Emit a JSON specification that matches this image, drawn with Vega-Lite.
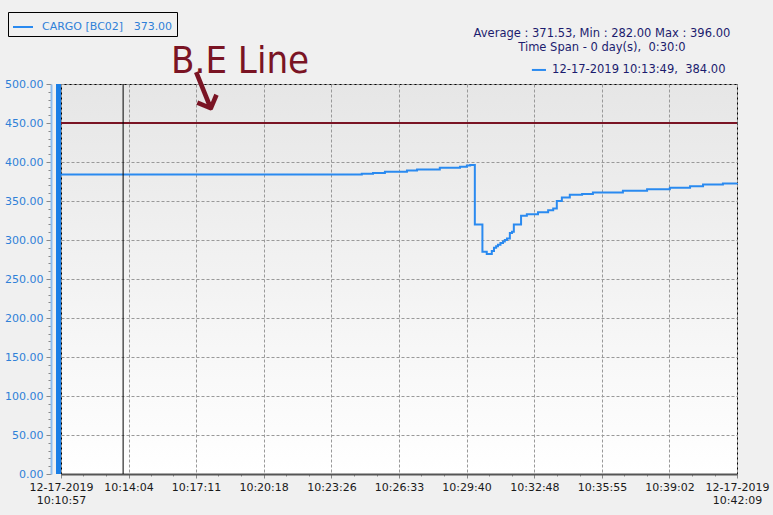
{
  "$schema": "https://vega.github.io/schema/vega-lite/v6.json",
  "width": 676,
  "height": 390,
  "autosize": {"type": "none"},
  "padding": {"left": 61, "top": 84, "right": 36, "bottom": 41},
  "background": "#f0f0f0",
  "config": {
    "font": "DejaVu Sans",
    "view": {
      "stroke": "#000000",
      "strokeWidth": 1,
      "fill": {"gradient": "linear", "x1": 0, "y1": 0, "x2": 0, "y2": 1, "stops": [{"offset": 0, "color": "#e6e6e6"}, {"offset": 1, "color": "#ffffff"}]}
    }
  },
  "layer": [
    {
      "data": {"values": [{}]},
      "mark": {"type": "rule", "color": "#1a7ee6", "strokeWidth": 5, "xOffset": -2.5},
      "encoding": {
        "x": {"datum": {"year": 2019, "month": 12, "date": 17, "hours": 10, "minutes": 10, "seconds": 57}, "type": "temporal"}
      }
    },
    {
      "data": {
        "values": [
          {"t": "2019-12-17T10:10:57", "v": 384},
          {"t": "2019-12-17T10:24:40", "v": 384},
          {"t": "2019-12-17T10:24:50", "v": 385},
          {"t": "2019-12-17T10:25:21", "v": 386},
          {"t": "2019-12-17T10:25:54", "v": 387.5},
          {"t": "2019-12-17T10:26:55", "v": 389},
          {"t": "2019-12-17T10:27:23", "v": 390.5},
          {"t": "2019-12-17T10:28:26", "v": 392.5},
          {"t": "2019-12-17T10:29:22", "v": 394},
          {"t": "2019-12-17T10:29:41", "v": 395.5},
          {"t": "2019-12-17T10:29:50", "v": 396},
          {"t": "2019-12-17T10:30:03", "v": 320},
          {"t": "2019-12-17T10:30:24", "v": 285},
          {"t": "2019-12-17T10:30:36", "v": 282},
          {"t": "2019-12-17T10:30:50", "v": 286},
          {"t": "2019-12-17T10:30:56", "v": 290},
          {"t": "2019-12-17T10:31:02", "v": 292},
          {"t": "2019-12-17T10:31:07", "v": 294},
          {"t": "2019-12-17T10:31:14", "v": 296},
          {"t": "2019-12-17T10:31:21", "v": 298},
          {"t": "2019-12-17T10:31:26", "v": 300},
          {"t": "2019-12-17T10:31:32", "v": 302},
          {"t": "2019-12-17T10:31:40", "v": 309},
          {"t": "2019-12-17T10:31:46", "v": 310.5},
          {"t": "2019-12-17T10:31:51", "v": 320},
          {"t": "2019-12-17T10:32:11", "v": 331},
          {"t": "2019-12-17T10:32:27", "v": 333},
          {"t": "2019-12-17T10:32:58", "v": 335.5},
          {"t": "2019-12-17T10:33:26", "v": 338},
          {"t": "2019-12-17T10:33:40", "v": 340.5},
          {"t": "2019-12-17T10:33:50", "v": 350},
          {"t": "2019-12-17T10:34:04", "v": 354.5},
          {"t": "2019-12-17T10:34:26", "v": 358},
          {"t": "2019-12-17T10:35:00", "v": 359},
          {"t": "2019-12-17T10:35:30", "v": 361},
          {"t": "2019-12-17T10:36:53", "v": 363},
          {"t": "2019-12-17T10:38:00", "v": 365},
          {"t": "2019-12-17T10:39:03", "v": 367},
          {"t": "2019-12-17T10:39:59", "v": 369},
          {"t": "2019-12-17T10:40:35", "v": 371},
          {"t": "2019-12-17T10:41:30", "v": 372.5},
          {"t": "2019-12-17T10:42:09", "v": 373}
        ]
      },
      "mark": {"type": "line", "interpolate": "step-after", "strokeWidth": 2},
      "encoding": {
        "x": {
          "field": "t", "type": "temporal",
          "scale": {"domain": [{"year": 2019, "month": 12, "date": 17, "hours": 10, "minutes": 10, "seconds": 57}, {"year": 2019, "month": 12, "date": 17, "hours": 10, "minutes": 42, "seconds": 9}], "nice": false},
          "axis": {
            "title": null,
            "tickCount": 200,
            "values": [
              {"year": 2019, "month": 12, "date": 17, "hours": 10, "minutes": 10, "seconds": 57},
              {"year": 2019, "month": 12, "date": 17, "hours": 10, "minutes": 11, "seconds": 59},
              {"year": 2019, "month": 12, "date": 17, "hours": 10, "minutes": 13, "seconds": 2},
              {"year": 2019, "month": 12, "date": 17, "hours": 10, "minutes": 14, "seconds": 4},
              {"year": 2019, "month": 12, "date": 17, "hours": 10, "minutes": 15, "seconds": 6},
              {"year": 2019, "month": 12, "date": 17, "hours": 10, "minutes": 16, "seconds": 8},
              {"year": 2019, "month": 12, "date": 17, "hours": 10, "minutes": 17, "seconds": 11},
              {"year": 2019, "month": 12, "date": 17, "hours": 10, "minutes": 18, "seconds": 13},
              {"year": 2019, "month": 12, "date": 17, "hours": 10, "minutes": 19, "seconds": 16},
              {"year": 2019, "month": 12, "date": 17, "hours": 10, "minutes": 20, "seconds": 18},
              {"year": 2019, "month": 12, "date": 17, "hours": 10, "minutes": 21, "seconds": 20},
              {"year": 2019, "month": 12, "date": 17, "hours": 10, "minutes": 22, "seconds": 23},
              {"year": 2019, "month": 12, "date": 17, "hours": 10, "minutes": 23, "seconds": 26},
              {"year": 2019, "month": 12, "date": 17, "hours": 10, "minutes": 24, "seconds": 28},
              {"year": 2019, "month": 12, "date": 17, "hours": 10, "minutes": 25, "seconds": 31},
              {"year": 2019, "month": 12, "date": 17, "hours": 10, "minutes": 26, "seconds": 33},
              {"year": 2019, "month": 12, "date": 17, "hours": 10, "minutes": 27, "seconds": 35},
              {"year": 2019, "month": 12, "date": 17, "hours": 10, "minutes": 28, "seconds": 38},
              {"year": 2019, "month": 12, "date": 17, "hours": 10, "minutes": 29, "seconds": 40},
              {"year": 2019, "month": 12, "date": 17, "hours": 10, "minutes": 30, "seconds": 42},
              {"year": 2019, "month": 12, "date": 17, "hours": 10, "minutes": 31, "seconds": 45},
              {"year": 2019, "month": 12, "date": 17, "hours": 10, "minutes": 32, "seconds": 48},
              {"year": 2019, "month": 12, "date": 17, "hours": 10, "minutes": 33, "seconds": 50},
              {"year": 2019, "month": 12, "date": 17, "hours": 10, "minutes": 34, "seconds": 53},
              {"year": 2019, "month": 12, "date": 17, "hours": 10, "minutes": 35, "seconds": 55},
              {"year": 2019, "month": 12, "date": 17, "hours": 10, "minutes": 36, "seconds": 57},
              {"year": 2019, "month": 12, "date": 17, "hours": 10, "minutes": 38, "seconds": 0},
              {"year": 2019, "month": 12, "date": 17, "hours": 10, "minutes": 39, "seconds": 2},
              {"year": 2019, "month": 12, "date": 17, "hours": 10, "minutes": 40, "seconds": 4},
              {"year": 2019, "month": 12, "date": 17, "hours": 10, "minutes": 41, "seconds": 7},
              {"year": 2019, "month": 12, "date": 17, "hours": 10, "minutes": 42, "seconds": 9}
            ],
            "labelExpr": "round(datum.index * 30) % 3 != 0 ? '' : ((datum.index == 0 || datum.index == 1) ? ['12-17-2019', timeFormat(datum.value, '%H:%M:%S')] : timeFormat(datum.value, '%H:%M:%S'))",
            "labelFont": "DejaVu Sans",
            "labelFontSize": 11,
            "labelColor": "#1a1a1a",
            "labelFlush": false,
            "labelOverlap": false,
            "labelPadding": 3,
            "domainColor": "#555555",
            "domainWidth": 2,
            "tickColor": "#888888",
            "tickSize": {"condition": {"test": "round(datum.index * 30) % 3 != 0", "value": 2}, "value": 4},
            "grid": true,
            "gridColor": "#999999",
            "gridDash": [3, 2],
            "gridOpacity": {"condition": {"test": "round(datum.index * 30) % 3 != 0", "value": 0}, "value": 1}
          }
        },
        "y": {
          "field": "v", "type": "quantitative",
          "scale": {"domain": [0, 500], "nice": false, "zero": true},
          "axis": {
            "title": null,
            "tickCount": 200,
            "values": [0,10,20,30,40,50,60,70,80,90,100,110,120,130,140,150,160,170,180,190,200,210,220,230,240,250,260,270,280,290,300,310,320,330,340,350,360,370,380,390,400,410,420,430,440,450,460,470,480,490,500],
            "labelExpr": "datum.value % 50 == 0 ? format(datum.value, '.2f') : ''",
            "labelFont": "DejaVu Sans",
            "labelFontSize": 11,
            "labelColor": "#2f80d8",
            "labelPadding": 3,
            "labelOverlap": false,
            "offset": 10,
            "domainColor": "#8dbdf0",
            "domainWidth": 2,
            "tickColor": "#888888",
            "tickSize": {"condition": {"test": "datum.value % 50 != 0", "value": 3}, "value": 5},
            "grid": true,
            "gridColor": "#999999",
            "gridDash": [3, 2],
            "gridOpacity": {"condition": {"test": "datum.value % 50 != 0", "value": 0}, "value": 1}
          }
        },
        "color": {
          "datum": "CARGO [BC02]",
          "type": "nominal",
          "scale": {"range": ["#2a8af0"]},
          "legend": {
            "title": null,
            "orient": "none",
            "legendX": -53,
            "legendY": -72,
            "strokeColor": "#000000",
            "padding": 4,
            "symbolType": "stroke",
            "symbolStrokeWidth": 2,
            "symbolSize": 400,
            "labelOffset": 8,
            "labelFont": "DejaVu Sans",
            "labelFontSize": 11,
            "labelColor": "#2f80d8",
            "labelExpr": "datum.label + '\u00a0\u00a0\u00a0373.00\u00a0'"
          }
        }
      }
    },
    {
      "data": {"values": [{}]},
      "mark": {"type": "rule", "color": "#7a1424", "strokeWidth": 2},
      "encoding": {"y": {"datum": 450}}
    },
    {
      "data": {"values": [{}]},
      "mark": {"type": "rule", "color": "#000000", "strokeWidth": 1},
      "encoding": {"x": {"datum": {"year": 2019, "month": 12, "date": 17, "hours": 10, "minutes": 13, "seconds": 49}, "type": "temporal"}}
    },
    {
      "data": {"values": [{}]},
      "mark": {"type": "text", "text": "B.E Line", "font": "DejaVu Sans Condensed", "fontSize": 38, "color": "#7a1424", "align": "center", "baseline": "middle"},
      "encoding": {
        "x": {"datum": {"year": 2019, "month": 12, "date": 17, "hours": 10, "minutes": 19, "seconds": 13}, "type": "temporal"},
        "y": {"datum": 528}
      }
    },
    {
      "data": {"values": [{}]},
      "mark": {"type": "text", "text": "↓", "font": "DejaVu Sans", "fontSize": 56, "color": "#7a1424", "align": "center", "baseline": "middle", "angle": 338},
      "encoding": {
        "x": {"datum": {"year": 2019, "month": 12, "date": 17, "hours": 10, "minutes": 17, "seconds": 36}, "type": "temporal"},
        "y": {"datum": 487}
      }
    },
    {
      "data": {"values": [{}]},
      "mark": {"type": "text", "text": "Average : 371.53, Min : 282.00 Max : 396.00", "font": "DejaVu Sans", "fontSize": 11.5, "color": "#1c1c6e", "align": "center", "baseline": "middle"},
      "encoding": {
        "x": {"datum": {"year": 2019, "month": 12, "date": 17, "hours": 10, "minutes": 35, "seconds": 55}, "type": "temporal"},
        "y": {"datum": 564}
      }
    },
    {
      "data": {"values": [{}]},
      "mark": {"type": "text", "text": "Time Span - 0 day(s),\u00a0\u00a00:30:0", "font": "DejaVu Sans", "fontSize": 11.5, "color": "#1c1c6e", "align": "center", "baseline": "middle"},
      "encoding": {
        "x": {"datum": {"year": 2019, "month": 12, "date": 17, "hours": 10, "minutes": 35, "seconds": 55}, "type": "temporal"},
        "y": {"datum": 546}
      }
    },
    {
      "data": {"values": [{}]},
      "mark": {"type": "text", "text": "12-17-2019 10:13:49,\u00a0\u00a0384.00", "font": "DejaVu Sans", "fontSize": 11.5, "color": "#1c1c6e", "align": "left", "baseline": "middle"},
      "encoding": {
        "x": {"datum": {"year": 2019, "month": 12, "date": 17, "hours": 10, "minutes": 33, "seconds": 37}, "type": "temporal"},
        "y": {"datum": 518}
      }
    },
    {
      "data": {"values": [{}]},
      "mark": {"type": "rule", "color": "#2a8af0", "strokeWidth": 2},
      "encoding": {
        "x": {"datum": {"year": 2019, "month": 12, "date": 17, "hours": 10, "minutes": 32, "seconds": 41}, "type": "temporal"},
        "x2": {"datum": {"year": 2019, "month": 12, "date": 17, "hours": 10, "minutes": 33, "seconds": 20}},
        "y": {"datum": 518}
      }
    }
  ]
}
